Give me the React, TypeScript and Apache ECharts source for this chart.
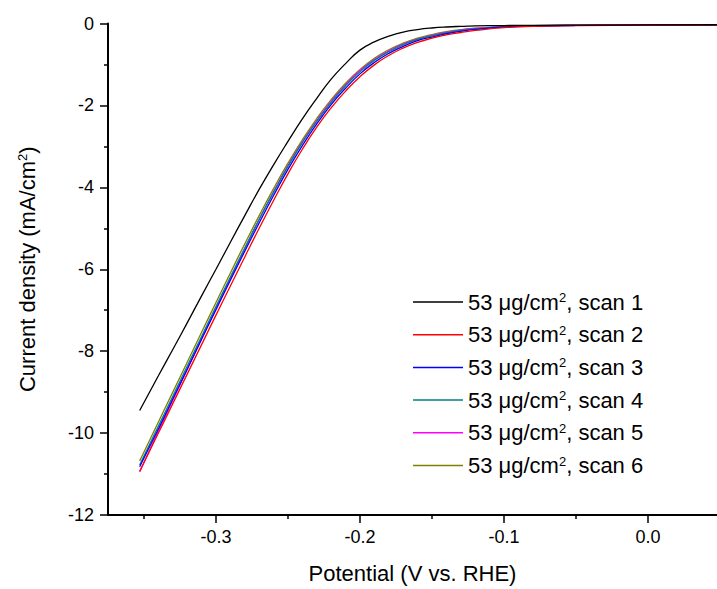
import React, { useEffect, useRef } from 'react';
import * as echarts from 'echarts';

// potential (V vs. RHE)
const potential = [-0.353, -0.34, -0.33, -0.32, -0.31, -0.3, -0.29, -0.28, -0.27, -0.26, -0.25, -0.24, -0.23, -0.22, -0.21, -0.2, -0.19, -0.18, -0.17, -0.16, -0.15, -0.14, -0.13, -0.12, -0.1, -0.08, -0.05, 0.0, 0.048];

// current density (mA/cm2) for each scan
const scan1 = [-9.45, -8.6, -7.96, -7.31, -6.65, -6.0, -5.34, -4.69, -4.05, -3.45, -2.88, -2.33, -1.83, -1.36, -0.98, -0.65, -0.45, -0.31, -0.21, -0.15, -0.11, -0.085, -0.07, -0.06, -0.05, -0.045, -0.04, -0.035, -0.03];
const scan2 = [-10.93, -10.0, -9.28, -8.56, -7.84, -7.12, -6.41, -5.7, -5.0, -4.32, -3.67, -3.07, -2.53, -2.06, -1.65, -1.3, -1.01, -0.78, -0.6, -0.46, -0.36, -0.28, -0.22, -0.17, -0.1, -0.07, -0.05, -0.04, -0.035];
const scan3 = [-10.82, -9.9, -9.17, -8.44, -7.71, -6.99, -6.27, -5.56, -4.87, -4.2, -3.56, -2.98, -2.45, -1.98, -1.58, -1.23, -0.95, -0.73, -0.56, -0.42, -0.33, -0.25, -0.19, -0.145, -0.09, -0.065, -0.048, -0.04, -0.035];
const scan4 = [-10.78, -9.83, -9.1, -8.37, -7.64, -6.91, -6.19, -5.48, -4.78, -4.12, -3.49, -2.91, -2.39, -1.93, -1.52, -1.18, -0.9, -0.69, -0.52, -0.39, -0.3, -0.23, -0.17, -0.13, -0.082, -0.06, -0.046, -0.039, -0.035];
const scan5 = [-10.95, -9.95, -9.2, -8.45, -7.7, -6.95, -6.22, -5.5, -4.79, -4.11, -3.47, -2.89, -2.37, -1.9, -1.5, -1.15, -0.88, -0.67, -0.5, -0.38, -0.29, -0.22, -0.16, -0.12, -0.078, -0.057, -0.045, -0.038, -0.035];
const scan6 = [-10.68, -9.73, -9.0, -8.27, -7.54, -6.81, -6.09, -5.38, -4.69, -4.03, -3.41, -2.84, -2.32, -1.86, -1.46, -1.12, -0.85, -0.64, -0.48, -0.36, -0.27, -0.2, -0.15, -0.115, -0.075, -0.055, -0.045, -0.038, -0.035];

const seriesNames = ['53 μg/cm², scan 1', '53 μg/cm², scan 2', '53 μg/cm², scan 3', '53 μg/cm², scan 4', '53 μg/cm², scan 5', '53 μg/cm², scan 6'];
const seriesData = [scan1, scan2, scan3, scan4, scan5, scan6];
const colors = ['#000000', '#ff0000', '#0000ff', '#008080', '#ff00ff', '#808000'];

const xMajorTicks = [-0.3, -0.2, -0.1, 0.0];
const xMinorTicks = [-0.35, -0.25, -0.15, -0.05];

const FONT = 'Liberation Sans, Arial, sans-serif';

export default function App() {
  const ref = useRef<HTMLDivElement>(null);
  useEffect(() => {
    if (!ref.current) return;
    const chart = echarts.init(ref.current, undefined, { renderer: 'svg' });
    const sup = { fontSize: 13, verticalAlign: 'top', lineHeight: 13, fontFamily: FONT, color: '#000' };
    chart.setOption({
      animation: false,
      backgroundColor: '#fff',
      textStyle: { fontFamily: FONT },
      grid: { left: 108, top: 23.5, right: 0, bottom: 70 },
      legend: {
        orient: 'vertical',
        left: 413,
        top: 291,
        padding: 0,
        itemWidth: 50,
        itemHeight: 1.5,
        itemGap: 10.7,
        icon: 'rect',
        data: seriesNames,
        formatter: (n: string) => `{a|${n.replace('²', '}{s|2}{a|')}}`,
        textStyle: {
          rich: {
            a: { fontSize: 22, lineHeight: 22, fontFamily: FONT, color: '#000' },
            s: sup,
          },
        },
      },
      xAxis: [
        {
          type: 'value',
          min: -0.375,
          max: 0.048,
          name: 'Potential (V vs. RHE)',
          nameLocation: 'middle',
          nameGap: 47,
          nameTextStyle: { fontSize: 22, color: '#000', fontFamily: FONT },
          axisLine: { onZero: false, lineStyle: { color: '#000', width: 2 } },
          axisTick: { customValues: xMajorTicks, length: 8, lineStyle: { color: '#000', width: 1.5 } },
          axisLabel: {
            customValues: xMajorTicks,
            formatter: (v: number) => v.toFixed(1),
            fontSize: 18,
            color: '#000',
            margin: 13,
            fontFamily: FONT,
          },
          splitLine: { show: false },
        },
        {
          type: 'value',
          min: -0.375,
          max: 0.048,
          position: 'bottom',
          axisLine: { show: false, onZero: false },
          axisTick: { customValues: xMinorTicks, length: 4, lineStyle: { color: '#000', width: 1.5 } },
          axisLabel: { show: false },
          splitLine: { show: false },
        },
      ],
      yAxis: {
        type: 'value',
        min: -12,
        max: 0,
        interval: 2,
        name: 'Current density (mA/cm{s|2})',
        nameLocation: 'middle',
        nameGap: 70,
        nameTextStyle: {
          rich: {
            s: sup,
          },
          fontSize: 22,
          color: '#000',
          fontFamily: FONT,
        },
        axisLine: { show: true, onZero: false, lineStyle: { color: '#000', width: 2 } },
        axisTick: { show: true, length: 8, lineStyle: { color: '#000', width: 1.5 } },
        minorTick: { show: true, splitNumber: 2, length: 4, lineStyle: { color: '#000', width: 1.5 } },
        axisLabel: { fontSize: 18, color: '#000', margin: 14, fontFamily: FONT },
        splitLine: { show: false },
      },
      series: seriesData.map((d, i) => ({
        name: seriesNames[i],
        type: 'line',
        xAxisIndex: 0,
        data: d.map((y, j) => [potential[j], y]),
        smooth: true,
        showSymbol: false,
        symbol: 'none',
        lineStyle: { color: colors[i], width: 1.3 },
        itemStyle: { color: colors[i] },
        z: 10 - i,
      })),
    });
    return () => chart.dispose();
  }, []);
  return <div ref={ref} style={{ position: 'fixed', left: 0, top: 0, width: 717, height: 589 }} />;
}
